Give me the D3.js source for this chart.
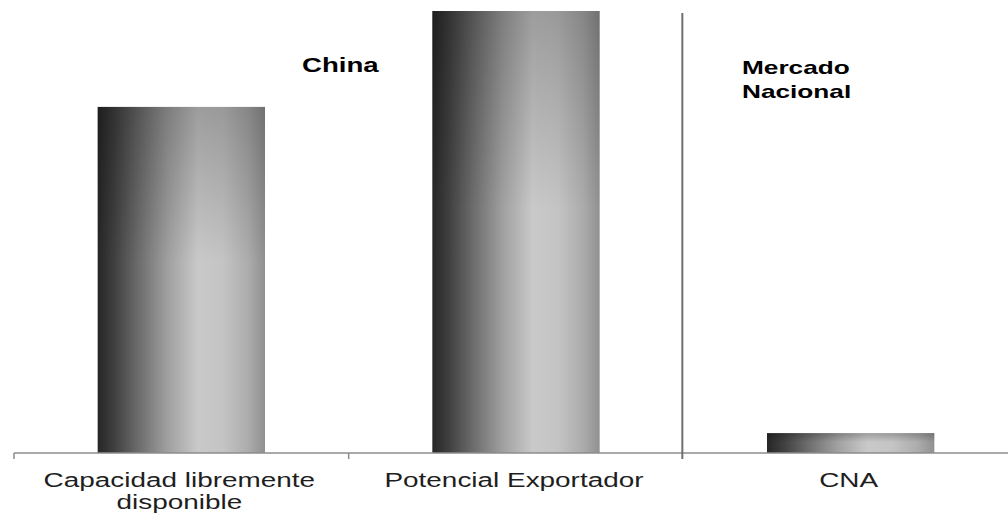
<!DOCTYPE html>
<html>
<head>
<meta charset="utf-8">
<script src="https://cdn.jsdelivr.net/npm/d3@7"></script>
<style>
  body { margin: 0; background: #fff; }
  svg { display: block; font-family: "Liberation Sans", Arial, sans-serif; }
</style>
</head>
<body>
<div id="chart"></div>
<script>
// données
const categories = ["Capacidad libremente disponible", "Potencial Exportador", "CNA"];
const values = [78.3, 100, 4.5];
const labelLines = [["Capacidad libremente", "disponible"], ["Potencial Exportador"], ["CNA"]];
const groupTitles = [["China"], ["Mercado", "Nacional"]];

// dimensions
const W = 1008, H = 517;
const axisY = 453;
const stretch = 1.33; // le texte de l'original est étiré horizontalement

const svg = d3.select("#chart")
    .append("svg")
    .attr("width", W)
    .attr("height", H);

// dégradés des barres
const defs = svg.append("defs");
const grad = defs.append("linearGradient")
    .attr("id", "barGrad")
    .attr("x1", "0%").attr("x2", "100%")
    .attr("y1", "0%").attr("y2", "0%");
[["0%", "#262626"], ["10%", "#404040"], ["25%", "#6e6e6e"], ["42%", "#a0a0a0"],
 ["60%", "#c9c9c9"], ["75%", "#c4c4c4"], ["90%", "#acacac"], ["100%", "#909090"]]
    .forEach(function(s) {
        grad.append("stop").attr("offset", s[0]).attr("stop-color", s[1]);
    });

const shade = defs.append("linearGradient")
    .attr("id", "barShade")
    .attr("x1", "0%").attr("x2", "0%")
    .attr("y1", "0%").attr("y2", "100%");
shade.append("stop").attr("offset", "0%").attr("stop-color", "#000").attr("stop-opacity", 0.22);
shade.append("stop").attr("offset", "45%").attr("stop-color", "#000").attr("stop-opacity", 0);

// échelles
const x = d3.scaleBand()
    .domain(categories)
    .range([14, 1018]);

const y = d3.scaleLinear()
    .domain([0, 100])
    .range([axisY, 11]);

const bw = x.bandwidth();

// barres
const bars = svg.append("g");
bars.selectAll("rect.bar")
    .data(categories)
    .join("rect")
    .attr("class", "bar")
    .attr("x", function(d) { return x(d) + bw * 0.25; })
    .attr("width", bw * 0.5)
    .attr("y", function(d, i) { return y(values[i]); })
    .attr("height", function(d, i) { return axisY - y(values[i]); })
    .style("fill", "url(#barGrad)");

bars.selectAll("rect.shade")
    .data(categories)
    .join("rect")
    .attr("class", "shade")
    .attr("x", function(d) { return x(d) + bw * 0.25; })
    .attr("width", bw * 0.5)
    .attr("y", function(d, i) { return y(values[i]); })
    .attr("height", function(d, i) { return axisY - y(values[i]); })
    .style("fill", "url(#barShade)");

// axe X
svg.append("line")
    .attr("x1", x(categories[0]))
    .attr("x2", W)
    .attr("y1", axisY)
    .attr("y2", axisY)
    .style("stroke", "#8c8c8c")
    .style("stroke-width", 1.5);

svg.selectAll("line.tick")
    .data(categories.slice(0, 2))
    .join("line")
    .attr("class", "tick")
    .attr("x1", function(d) { return x(d); })
    .attr("x2", function(d) { return x(d); })
    .attr("y1", axisY)
    .attr("y2", axisY + 6)
    .style("stroke", "#8c8c8c")
    .style("stroke-width", 1.5);

// séparateur Chine / Mercado Nacional
svg.append("line")
    .attr("x1", x(categories[2]) - 1)
    .attr("x2", x(categories[2]) - 1)
    .attr("y1", 13)
    .attr("y2", axisY + 6)
    .style("stroke", "#707070")
    .style("stroke-width", 2);

// étiquettes des catégories
const labels = svg.selectAll("g.label")
    .data(categories)
    .join("g")
    .attr("class", "label")
    .attr("transform", function(d) { return `translate(${x(d) + bw / 2 - 2}, 487) scale(${stretch}, 1)`; });

labels.selectAll("text")
    .data(function(d, i) { return labelLines[i]; })
    .join("text")
    .attr("text-anchor", "middle")
    .attr("y", function(d, i) { return i * 22; })
    .style("font-size", "21px")
    .style("fill", "#1e1e1e")
    .text(function(d) { return d; });

// titres des groupes
const titlePos = [[302, 72], [742, 74]];
const titleSize = [20, 19];
const titles = svg.selectAll("g.title")
    .data(groupTitles)
    .join("g")
    .attr("class", "title")
    .attr("transform", function(d, i) { return `translate(${titlePos[i][0]}, ${titlePos[i][1]}) scale(1.38, 1)`; });

titles.selectAll("text")
    .data(function(d) { return d; })
    .join("text")
    .attr("y", function(d, i) { return i * 24; })
    .style("font-size", function(d, i, nodes) {
        return titleSize[groupTitles.findIndex(function(g) { return g.includes(d); })] + "px";
    })
    .style("font-weight", "bold")
    .style("fill", "#000")
    .text(function(d) { return d; });
</script>
</body>
</html>
